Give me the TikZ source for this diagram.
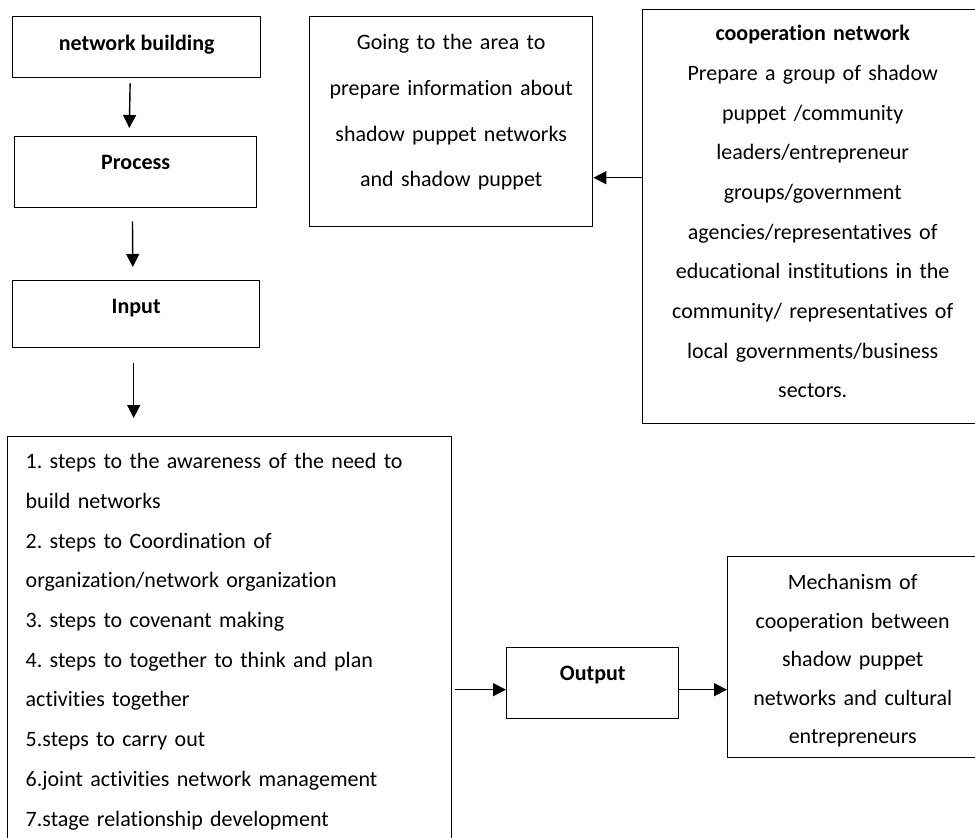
\documentclass[tikz,border=0pt]{standalone}
\usepackage{fontspec}
\setmainfont{Carlito}[Ligatures=NoCommon]
\usetikzlibrary{arrows.meta}
\frenchspacing

\begin{document}
\begin{tikzpicture}[x=1pt,y=-1pt,line width=1.4pt,
  box/.style={draw,inner ysep=0pt,inner xsep=8pt,font=\fontsize{22}{39.7}\selectfont},
  head/.style={box,font=\fontsize{22}{39.7}\selectfont\bfseries,text height=33pt},
  arr/.style={-{Triangle[length=13pt,width=13pt]},line width=1.4pt}]
\useasboundingbox (0,0) rectangle (975,838);
\node[head] (N) [anchor=north west, minimum width=248pt, text height=34pt, text depth=27pt] at (12,16) {network building};
\node[head] (P) [anchor=north west, minimum width=242pt, text depth=38pt] at (14,136) {Process};
\node[head] (I) [anchor=north west, minimum width=247pt, text depth=34pt] at (12,280) {Input};
\node[box] (S) [anchor=north west, text width=408pt, inner xsep=18pt, align=left, text height=32pt, text depth=420pt] at (7,436)
  {1. steps to the awareness of the need to\\
   build networks\\
   2. steps to Coordination of\\
   organization/network organization\\
   3. steps to covenant making\\
   4. steps to together to think and plan\\
   activities together\\
   5.steps to carry out\\
   6.joint activities network management\\
   7.stage relationship development};
\node[head] (O) [anchor=north west, minimum width=172pt, text depth=38pt] at (506,647) {Output};
\node[box] (M) [anchor=north west, text width=234pt, align=center, font=\fontsize{22}{38.5}\selectfont, text height=33pt, text depth=168pt] at (727,556)
  {Mechanism of\\ cooperation between\\ shadow puppet\\ networks and cultural\\ entrepreneurs};
\node[box] (G) [anchor=north west, text width=267pt, align=center, font=\fontsize{22}{45.7}\selectfont, text height=33pt, text depth=177pt] at (309,16)
  {Going to the area to\\ prepare information about\\ shadow puppet networks\\ and shadow puppet};
\node[box] (C) [anchor=north west, text width=324pt, align=center, text height=31pt, text depth=383pt] at (642,9)
  {{\bfseries cooperation network}\\ Prepare a group of shadow\\ puppet /community\\ leaders/entrepreneur\\ groups/government\\
   agencies/representatives of\\ educational institutions in the\\ community/ representatives of\\ local governments/business\\ sectors.};
\path
([xshift=-6.5pt]N.south) edge[arr, shorten <=5pt, shorten >=8pt] ([xshift=-6.5pt]P.north)
([xshift=-3.3pt]P.south) edge[arr, shorten <=13pt, shorten >=13pt] ([xshift=-3.3pt]I.north)
([xshift=-2.5pt]I.south) edge[arr, shorten <=15pt, shorten >=18pt] ([xshift=-2.5pt]I.south |- S.north)
([yshift=39pt]C.west) edge[arr] ([yshift=39pt]C.west -| G.east)
([yshift=-6.5pt]O.west -| S.east) edge[arr, shorten <=3pt] ([yshift=-6.5pt]O.west)
([yshift=-6.5pt]O.east) edge[arr] ([yshift=-6.5pt]O.east -| M.west);
\end{tikzpicture}
\end{document}
